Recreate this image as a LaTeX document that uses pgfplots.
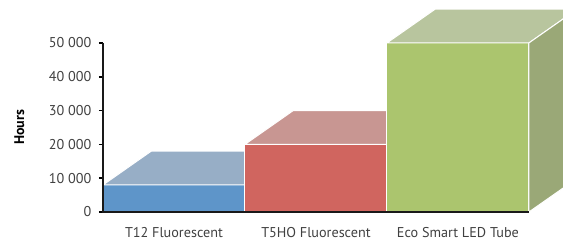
\documentclass[border=0pt]{standalone}
\usepackage{pgfplots}
\pgfplotsset{compat=1.18}
\usepackage{fontspec}
\setmainfont{PT Sans}
\definecolor{b1f}{HTML}{5E95C9}
\definecolor{b1t}{HTML}{97AEC6}
\definecolor{b2f}{HTML}{D0655F}
\definecolor{b2t}{HTML}{C89692}
\definecolor{b3f}{HTML}{ABC56E}
\definecolor{b3t}{HTML}{B8C59E}
\definecolor{b3s}{HTML}{9AA877}
\definecolor{lbl}{HTML}{404040}
\begin{document}
\begin{tikzpicture}
\begin{axis}[
 scale only axis, width=460pt, height=212pt,
 xmin=0, xmax=3.24, ymin=0, ymax=62700,
 axis lines*=left,
 axis line style={draw=none},
 xtick={0.5,1.5,2.5},
 xticklabels={T12 Fluorescent, T5HO Fluorescent, Eco Smart LED Tube},
 x tick style={draw=none},
 ytick={0,10000,20000,30000,40000,50000},
 y tick style={black, line width=1.5pt},
 tick align=outside,
 major tick length=4pt,
 /pgf/number format/.cd, 1000 sep={\ }, assume math mode=true, /pgfplots/.cd,
 scaled y ticks=false,
 tick label style={font=\fontsize{14.2}{16}\selectfont, text=lbl},
 yticklabel style={xshift=-4pt},
 xticklabel style={yshift=-8pt},
 ylabel={Hours},
 ylabel style={font=\fontsize{14}{16}\selectfont\bfseries, at={(axis description cs:-0.182,0.399)}, anchor=center, rotate=0},
]
% bar 1
\addplot[fill=b1f, draw=white, line width=1pt] coordinates {(0,0) (1,0) (1,8000) (0,8000)} -- cycle;
\addplot[fill=b1t, draw=white, line width=1pt] coordinates {(0,8000) (0.34,18000) (1.34,18000) (1,8000)} -- cycle;
% bar 2
\addplot[fill=b2f, draw=white, line width=1pt] coordinates {(1,0) (2,0) (2,20000) (1,20000)} -- cycle;
\addplot[fill=b2t, draw=white, line width=1pt] coordinates {(1,20000) (1.34,30000) (2.34,30000) (2,20000)} -- cycle;
% bar 3
\addplot[fill=b3f, draw=white, line width=1pt] coordinates {(2,0) (3,0) (3,50000) (2,50000)} -- cycle;
\addplot[fill=b3t, draw=white, line width=1pt] coordinates {(2,50000) (2.34,60000) (3.34,60000) (3,50000)} -- cycle;
\addplot[fill=b3s, draw=white, line width=1pt] coordinates {(3,0) (3.34,10000) (3.34,60000) (3,50000)} -- cycle;
\coordinate (o) at (axis cs:0,0);
\coordinate (t) at (axis cs:0,50000);
\coordinate (r) at (axis cs:3,0);
\coordinate (sw) at (rel axis cs:0,0);
\coordinate (ne) at (rel axis cs:1,1);
\end{axis}
\draw[line width=2pt, black!90] (t) -- (o) -- (r);
\pgfresetboundingbox
\path[use as bounding box] ([xshift=-103pt,yshift=-32pt]sw) rectangle (ne);
\end{tikzpicture}
\end{document}
